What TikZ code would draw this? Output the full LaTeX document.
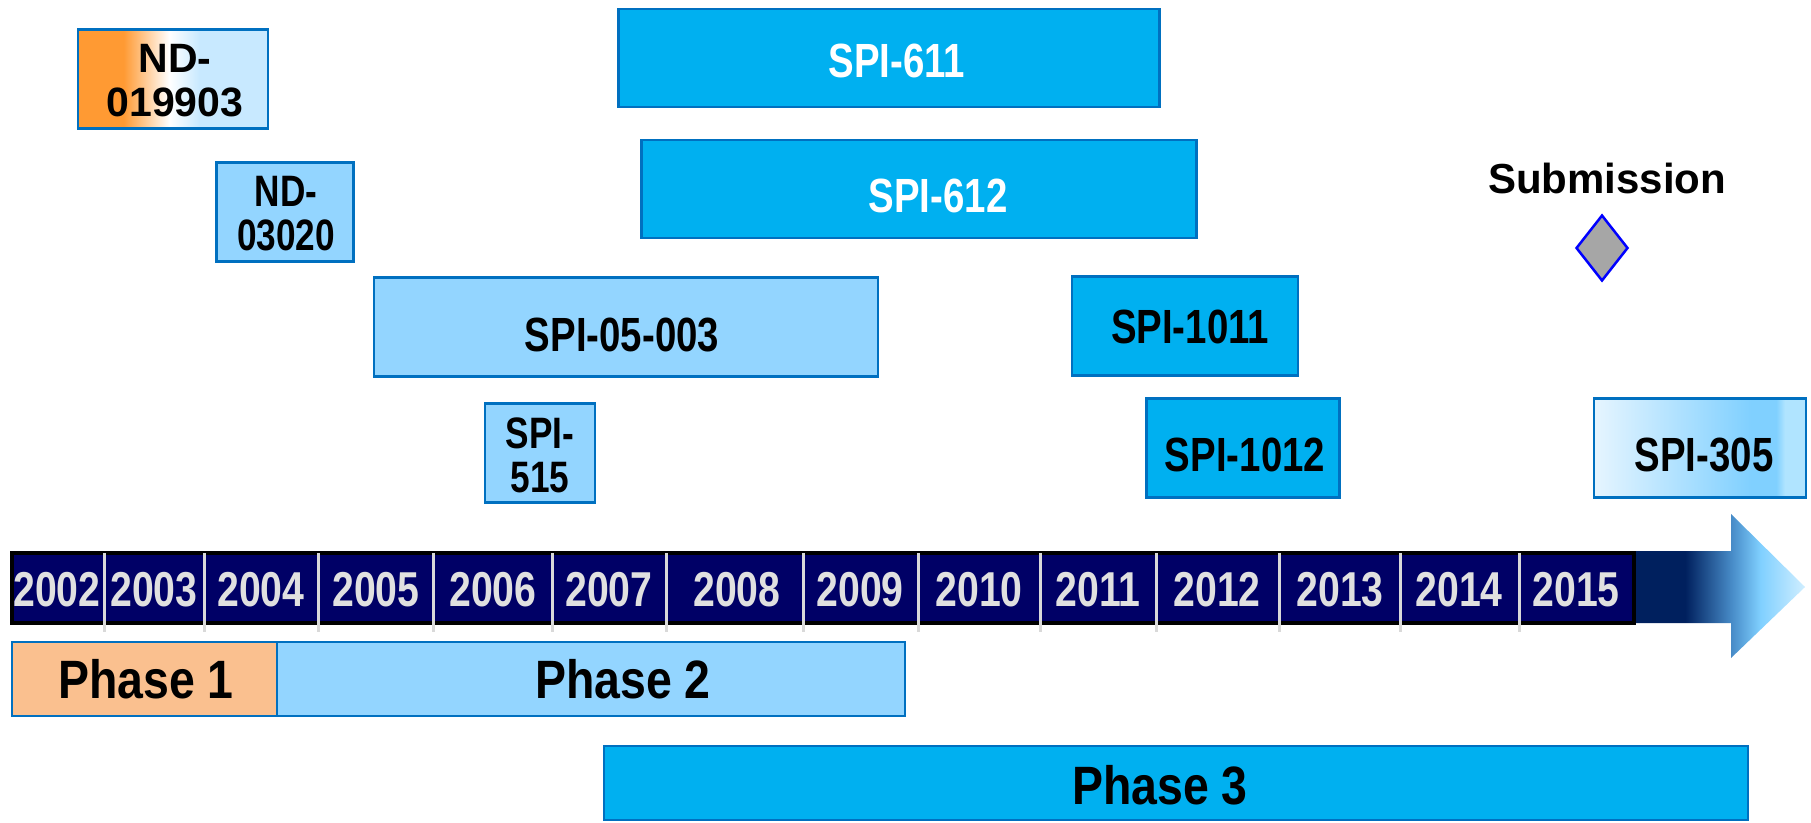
\documentclass[tikz,border=0pt]{standalone}
\usepackage{fontspec}
\setmainfont{Liberation Sans}
\newfontfamily\narrowf{Liberation Sans}[FakeStretch=0.8]
\newfontfamily\phasef{Liberation Sans}[FakeStretch=0.86]
\usetikzlibrary{shapes.geometric}
\definecolor{bright}{HTML}{00B0F0}
\definecolor{lightb}{HTML}{93D5FF}
\definecolor{edgeb}{HTML}{0070C0}
\definecolor{navyb}{HTML}{000066}
\definecolor{orangep}{HTML}{FAC08F}
\definecolor{ndor}{HTML}{FF9A33}
\definecolor{ndblue}{HTML}{C8E9FF}
\definecolor{yeargray}{HTML}{E0E0E0}
\definecolor{sepgray}{HTML}{D9D9D9}
\definecolor{arrnavy}{HTML}{00205E}
\definecolor{arrmid}{HTML}{4A8FCB}
\definecolor{arrlight}{HTML}{80D0FF}
\definecolor{arrtip}{HTML}{D0EEFF}
\definecolor{spileft}{HTML}{E6F5FF}
\definecolor{spimid}{HTML}{80D0FF}
\definecolor{spiright}{HTML}{B0E4FF}
\definecolor{diamfill}{HTML}{A6A6A6}
\pgfdeclarehorizontalshading{ndshade}{100bp}{color(0bp)=(ndor); color(25bp)=(ndor); color(37bp)=(ndor); color(49bp)=(white); color(57bp)=(ndblue); color(100bp)=(ndblue)}
\pgfdeclarehorizontalshading{spishade}{100bp}{color(0bp)=(spileft); color(25bp)=(spileft); color(62bp)=(spimid); color(68bp)=(spimid); color(70bp)=(spiright); color(75bp)=(spiright); color(100bp)=(spiright)}
\pgfdeclarehorizontalshading{arrowshade}{100bp}{color(0bp)=(arrnavy); color(25bp)=(arrnavy); color(40bp)=(arrnavy); color(54bp)=(arrmid); color(62bp)=(arrlight); color(75bp)=(arrtip); color(100bp)=(arrtip)}
\tikzset{
  bx/.style={draw=edgeb, line width=2.5pt, inner sep=0pt},
  lbl/.style={inner sep=0pt, font={\narrowf\bfseries\fontsize{48}{48}\selectfont}},
  lbltwo/.style={inner sep=0pt, align=center, font={\narrowf\bfseries\fontsize{44}{44}\selectfont}},
  yr/.style={inner sep=0pt, text=yeargray, font={\narrowf\bfseries\fontsize{49}{49}\selectfont}},
  ph/.style={inner sep=0pt, font={\phasef\bfseries\fontsize{54}{54}\selectfont}},
  sepline/.style={draw=sepgray, line width=3pt}
}
\begin{document}
\begin{tikzpicture}[x=1pt,y=-1pt]
\useasboundingbox (0,0) rectangle (1811,822);

% upper boxes
\node[bx, shading=ndshade, minimum width=190pt, minimum height=99pt] (nd1) at (173,79) {};
\node[inner sep=0pt, align=center, font={\bfseries\fontsize{41}{44}\selectfont}] (nd1t) at (175,81) {ND-\\019903};

\node[bx, fill=lightb, minimum width=137pt, minimum height=99pt] (nd2) at (285,212) {};
\node[lbltwo] (nd2t) at (286,214) {ND-\\03020};

\node[bx, fill=bright, minimum width=541pt, minimum height=98pt] (s611) at (889,58) {};
\node[lbl, text=white] (s611t) at (897,61) {SPI-611};

\node[bx, fill=bright, minimum width=555pt, minimum height=98pt] (s612) at (919,189) {};
\node[lbl, text=white] (s612t) at (938,196) {SPI-612};

\node[bx, fill=lightb, minimum width=504pt, minimum height=99pt] (s05) at (626,327) {};
\node[lbl] (s05t) at (622,335) {SPI-05-003};

\node[bx, fill=bright, minimum width=226pt, minimum height=99pt] (s1011) at (1185,326) {};
\node[lbl] (s1011t) at (1190,327) {SPI-1011};

\node[bx, fill=lightb, minimum width=110pt, minimum height=99pt] (s515) at (540,453) {};
\node[lbltwo] (s515t) at (540,455) {SPI-\\515};

\node[bx, fill=bright, minimum width=193pt, minimum height=99pt] (s1012) at (1243,448) {};
\node[lbl] (s1012t) at (1245,455) {SPI-1012};

\node[bx, shading=spishade, minimum width=212pt, minimum height=99pt] (s305) at (1700,448) {};
\node[lbl] (s305t) at (1704,455) {SPI-305};

% submission
\node[inner sep=0pt, font={\bfseries\fontsize{42}{42}\selectfont}] (subt) at (1607,178) {Submission};
\node[shape=diamond, draw=blue, line width=2.5pt, fill=diamfill, inner sep=0pt, aspect=0.79, minimum width=52pt, minimum height=66pt] (subd) at (1602,248) {};

% timeline arrow
\shade[shading=arrowshade] (1634,551) -- (1731,551) -- (1731,514) -- (1805,587) -- (1731,658) -- (1731,623) -- (1634,623) -- cycle;
\draw[black, line width=4pt, fill=navyb] (12,553) rectangle (1634,623);
\foreach \x in {104,204,318,433,552,666,803,918,1040,1156,1279,1400,1519}
  \draw[sepline] (\x,553) -- (\x,632);
\foreach \c/\y in {57/2002,154/2003,261/2004,376/2005,493/2006,609/2007,737/2008,860/2009,979/2010,1098/2011,1217/2012,1340/2013,1459/2014,1576/2015}
  \node[yr] (y\y) at (\c,590) {\y};

% phases
\node[bx, fill=orangep, minimum width=265pt, minimum height=74pt] (p1) at (144.5,679) {};
\node[ph] (p1t) at (146,679) {Phase 1};
\node[bx, fill=lightb, minimum width=628pt, minimum height=74pt] (p2) at (591,679) {};
\node[ph] (p2t) at (623,679) {Phase 2};
\node[bx, fill=bright, minimum width=1144pt, minimum height=74pt] (p3) at (1176,783) {};
\node[ph] (p3t) at (1160,785) {Phase 3};
\end{tikzpicture}
\end{document}
